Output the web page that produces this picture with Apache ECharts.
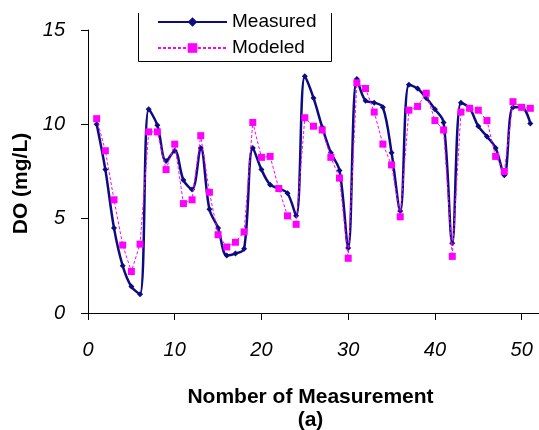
<!DOCTYPE html>
<html>
<head>
<meta charset="utf-8">
<script src="https://cdn.jsdelivr.net/npm/echarts@6/dist/echarts.min.js"></script>
<style>
  html, body { margin: 0; padding: 0; background: #fff; }
  #chart { width: 539px; height: 430px; }
</style>
</head>
<body>
<div id="chart"></div>
<script>
// measurement number 1..51
const measurementNo = [
  1, 2, 3, 4, 5, 6, 7, 8, 9, 10, 11, 12, 13, 14, 15, 16, 17, 18, 19, 20,
  21, 22, 23, 24, 25, 26, 27, 28, 29, 30, 31, 32, 33, 34, 35, 36, 37, 38, 39, 40,
  41, 42, 43, 44, 45, 46, 47, 48, 49, 50, 51
];
// DO (mg/L)
const measured = [
  10.0, 7.6, 4.5, 2.5, 1.4, 1.0, 10.8, 9.95, 8.05, 8.6, 7.05, 6.55, 8.75, 5.5, 4.5, 3.05, 3.15, 3.4, 8.75, 7.6,
  6.8, 6.6, 6.35, 5.15, 12.55, 11.4, 9.85, 8.5, 7.55, 3.45, 12.4, 11.25, 11.15, 10.9, 8.5, 5.4, 12.1, 11.9, 11.4, 10.8,
  10.1, 3.7, 11.15, 10.85, 9.9, 9.35, 8.75, 7.3, 10.9, 10.9, 10.05
];
const modeled = [
  10.3, 8.6, 6.0, 3.6, 2.2, 3.65, 9.6, 9.6, 7.6, 8.95, 5.8, 6.0, 9.4, 6.4, 4.15, 3.5, 3.75, 4.3, 10.1, 8.25,
  8.3, 6.6, 5.15, 4.7, 10.35, 9.9, 9.7, 8.25, 7.15, 2.9, 12.2, 11.9, 10.65, 8.95, 7.85, 5.1, 10.75, 10.95, 11.65, 10.2,
  9.7, 3.0, 10.65, 10.85, 10.75, 10.2, 8.3, 7.5, 11.2, 10.9, 10.85
];
const xTicks = [0, 10, 20, 30, 40, 50];
const yTicks = [0, 5, 10, 15];

const toPairs = (ys) => measurementNo.map((x, i) => [x, ys[i]]);

const chart = echarts.init(document.getElementById('chart'));

const option = {
  backgroundColor: '#ffffff',
  animation: false,
  grid: { left: 88, right: 0, top: 30, bottom: 117, containLabel: false, outerBoundsMode: 'none' },
  legend: {
    left: 157,
    top: 12,
    orient: 'vertical',
    itemWidth: 69,
    itemHeight: 12,
    itemGap: 6,
    padding: 0,
    textStyle: { fontFamily: 'Liberation Sans, Arial', fontSize: 19, color: '#000', lineHeight: 20 },
    data: ['Measured', 'Modeled']
  },
  graphic: [
    {
      // legend frame (top edge cropped in the original)
      type: 'polyline',
      silent: true,
      shape: { points: [[138.5, 13], [138.5, 61.5], [331.5, 61.5], [331.5, 13]] },
      style: { stroke: '#000', lineWidth: 1, fill: null },
      z: 0
    }
  ],
  xAxis: {
    type: 'value',
    min: 0,
    max: 52,
    interval: 10,
    name: 'Nomber of Measurement\n(a)',
    nameLocation: 'middle',
    nameGap: 73,
    nameTextStyle: {
      fontFamily: 'Liberation Sans, Arial', fontSize: 21, fontWeight: 'bold',
      color: '#000', lineHeight: 23, padding: [0, 6, 0, 0]
    },
    axisLine: { lineStyle: { color: '#000', width: 1 } },
    axisTick: { length: 7, lineStyle: { color: '#000' } },
    axisLabel: {
      margin: 27,
      showMaxLabel: false,
      fontFamily: 'Liberation Sans, Arial', fontSize: 20, fontStyle: 'italic', color: '#000',
      formatter: (v) => (xTicks.includes(v) ? String(v) : '')
    },
    splitLine: { show: false }
  },
  yAxis: {
    type: 'value',
    min: yTicks[0],
    max: yTicks[yTicks.length - 1],
    interval: 5,
    name: 'DO (mg/L)',
    nameLocation: 'middle',
    nameGap: 56,
    nameTextStyle: {
      fontFamily: 'Liberation Sans, Arial', fontSize: 21, fontWeight: 'bold', color: '#000',
      padding: [0, 24, 0, 0]
    },
    axisLine: { show: true, lineStyle: { color: '#000', width: 1 } },
    axisTick: { show: true, length: 7, lineStyle: { color: '#000' } },
    axisLabel: {
      margin: 23,
      fontFamily: 'Liberation Sans, Arial', fontSize: 20, fontStyle: 'italic', color: '#000'
    },
    splitLine: { show: false }
  },
  series: [
    {
      name: 'Measured',
      type: 'line',
      data: toPairs(measured),
      smooth: 0.35,
      symbol: 'diamond',
      symbolSize: 6,
      showAllSymbol: true,
      lineStyle: { color: '#0c0c80', width: 2.5 },
      itemStyle: { color: '#0c0c80' },
      z: 2
    },
    {
      name: 'Modeled',
      type: 'line',
      data: toPairs(modeled),
      smooth: false,
      symbol: 'rect',
      symbolSize: 7,
      showAllSymbol: true,
      lineStyle: { color: '#ff00ff', width: 1, type: [3, 2] },
      itemStyle: { color: '#ff00ff' },
      z: 3
    }
  ]
};

chart.setOption(option);
</script>
</body>
</html>
